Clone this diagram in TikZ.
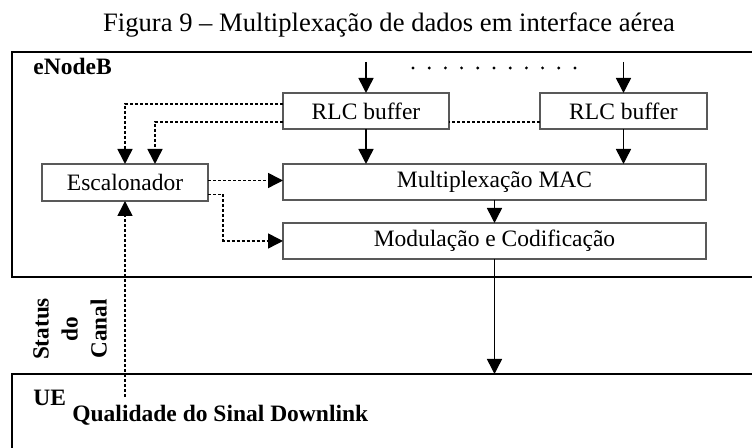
\documentclass[tikz,border=0pt]{standalone}
\usepackage{fontspec}
\setmainfont{Liberation Serif}
\usetikzlibrary{arrows.meta,positioning}
\begin{document}
\begin{tikzpicture}[x=0.5pt,y=-0.5pt,
  frame/.style={draw,line width=1pt,rectangle,inner sep=0pt,outer sep=0pt},
  blk/.style={draw=black!65,fill=white,line width=0.8pt,rectangle,inner sep=0pt,outer sep=0pt,minimum height=18pt,font=\fontsize{11.75}{14}\selectfont},
  lbl/.style={inner sep=0pt,font=\fontsize{11.75}{14}\selectfont\bfseries},
  arr/.style={-{Triangle[length=7.5pt,width=7.5pt]},line width=0.75pt},
  dotarr/.style={line width=0.7pt,dash pattern=on 1.5pt off 1pt},
  >=Triangle]
\useasboundingbox (0,0) rectangle (752,448);
\clip (0,0) rectangle (752,448);
\node[inner sep=0pt,font=\fontsize{13.3}{16}\selectfont] (title) at (389,25) {Figura 9 -- Multiplexação de dados em interface aérea};
% containers
\node[frame,minimum width=379pt,minimum height=112.5pt] (enb) at (391,164.5) {};
\node[frame,minimum width=379pt,minimum height=48pt] (ue) at (391,422) {};
\node[lbl,anchor=base west] (enblbl) at (33,75) {eNodeB};
\node[lbl,anchor=base west] (uelbl) at (33,406) {UE};
\node[lbl,anchor=base west] (qual) at (72,422) {Qualidade do Sinal Downlink};
\node[lbl,rotate=90,align=center,font=\fontsize{11.6}{14.5}\selectfont\bfseries] (status) at (70,329) {Status\\ do\\ Canal};
% blocks
\node[blk,minimum width=83pt] (rlcA) at (366,111) {RLC buffer};
\node[blk,minimum width=83.5pt] (rlcB) at (623.5,111) {RLC buffer};
\node[blk,minimum width=83pt,minimum height=18.5pt] (esc) at (125,182.5) {Escalonador};
\node[blk,minimum width=211.5pt] (mac) at (494.5,182) {Multiplexação MAC};
\node[blk,minimum width=211.5pt] (mod) at (494.5,241) {Modulação e Codificação};
\coordinate (inA) at (366,62);
\coordinate (inB) at (623.5,62);
\coordinate (cqi) at (125,397);
\foreach \i in {0,...,10} \fill (413+16.2*\i,68) circle (0.8pt);
% data path
\draw[arr] (inA) -- (rlcA);
\draw[arr] (inB) -- (rlcB);
\draw[arr] (rlcA) -- (rlcA |- mac.north);
\draw[arr] (rlcB) -- (rlcB |- mac.north);
\draw[arr] (mac) -- (mod);
\draw[arr] (mod) -- (mod |- ue.north);
% control path
\draw[dotarr,arr] ([yshift=3.5pt]rlcA.west) -| (esc.north);
\draw[dotarr] ([yshift=-5.5pt]rlcB.west) -- ([yshift=-5.5pt]rlcA.east);
\draw[dotarr,arr] ([yshift=-5.5pt]rlcA.west) -| ([xshift=15pt]esc.north);
\draw[dotarr,arr] ([yshift=1pt]esc.east) -- ([yshift=1pt]esc.east -| mac.west);
\draw[dotarr,arr] ([yshift=-6pt]esc.east) -- ++(7.5pt,0) |- (mod.west);
\draw[dotarr,arr] (cqi) -- (esc);
\end{tikzpicture}
\end{document}
